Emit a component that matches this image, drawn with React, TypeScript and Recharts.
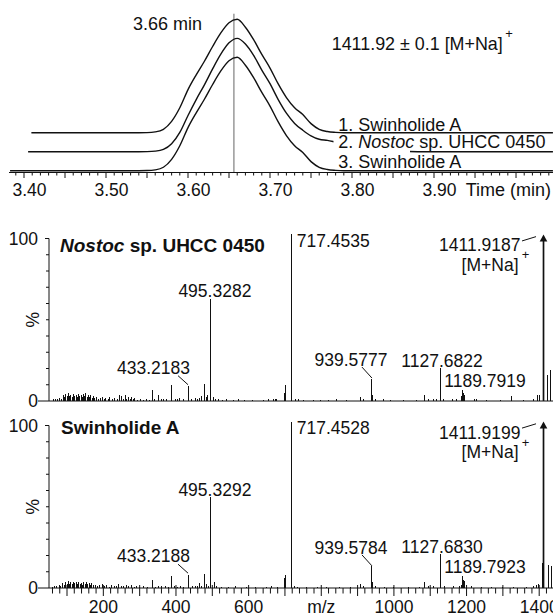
import { LineChart, Line, XAxis, YAxis, ReferenceLine, BarChart, Bar, ReferenceDot } from 'recharts';

const FONT = '"Liberation Sans", Arial, Helvetica, sans-serif';
const INK = '#111';

// ---- extracted ion chromatograms, m/z 1411.92 ± 0.1 ----
const RT_MIN = [
  3.383, 3.405, 3.409, 3.5, 3.54, 3.55, 3.56, 3.57, 3.58, 3.59, 3.6, 3.61, 3.62, 3.63, 3.64, 3.65, 3.66, 3.67,
  3.68, 3.69, 3.7, 3.71, 3.72, 3.73, 3.74, 3.75, 3.76, 3.77, 3.78, 3.79, 3.8, 3.83, 3.86, 3.9, 4.045,
];
const EIC_SWINHOLIDE_1 = [
  null, null, 0, 0, 0, 0.1, 0.7, 3, 10, 22, 38, 51, 63, 76, 88, 97, 100, 93,
  82, 69, 57, 43, 31, 22, 16, 8, 3, 1, 0.3, 0, 0, 0, 0, 0, 0,
];
const EIC_NOSTOC = [
  null, 0, 0, 0, 0, 0.1, 0.5, 2, 7, 17, 32, 46, 59, 73, 86, 96, 100, 95,
  85, 72, 60, 46, 34, 25, 19, 14, 11, 10, 8.5, 7, 6, 2.5, 0.5, 0, 0,
];
const EIC_SWINHOLIDE_3 = [
  0, 0, 0, 0, 0, 0.1, 0.7, 3, 10, 22, 38, 51, 63, 76, 88, 97, 100, 93,
  82, 69, 57, 43, 31, 22, 16, 8, 3, 1, 0.3, 0, 0, 0, 0, 0, 0,
];
const RT_APEX = 3.656;
const RT_DOMAIN = [3.3817, 4.0451];
const RT_TICKS = Array.from({ length: 66 }, (_, i) => Math.round(339 + i) / 100);
// stacking of the three traces (chart units, peak = 100)
const TRACE_OFFSET = { s1: 35.1, s2: 18.3, s3: 1.6 };
const EIC_DOMAIN = [0, 152.1];

// ---- mass spectra: [m/z, relative intensity %] ----
const NOSTOC_PEAKS: [number, number][] = [
  [62, 1.0], [67, 1.5], [73, 1.2], [79, 2.0], [84, 1.4], [90, 3.5], [94, 2.2], [97, 4.5], [101, 2.8], [104, 5.0],
  [107, 3.0], [110, 4.0], [114, 2.6], [117, 4.5], [121, 3.2], [125, 4.0], [128, 2.5], [131, 4.5], [135, 3.0],
  [139, 3.5], [142, 2.4], [145, 4.2], [149, 3.0], [152, 4.7], [156, 2.6], [159, 3.5], [162, 2.2], [165, 4.0],
  [169, 2.0], [172, 3.0], [177, 1.6], [182, 2.5], [186, 1.4], [191, 2.0], [198, 2.7], [203, 1.2], [207, 2.0],
  [213, 1.0], [218, 2.5], [225, 1.2], [232, 2.0], [238, 1.0], [244, 4.0], [251, 3.0], [256, 1.5], [260, 3.5],
  [265, 1.2], [269, 2.7], [274, 1.0], [278, 2.2], [283, 1.0], [287, 1.8], [294, 0.8], [301, 1.2], [310, 0.8],
  [320, 1.3], [328, 0.8], [336, 6.6], [342, 1.0], [353, 4.0], [359, 1.2], [365, 1.5], [375, 1.2], [388.4, 9.7],
  [397.5, 1.5], [405, 1.0], [411, 1.8], [422, 1.0], [433.2183, 9.1], [434.2, 2.0], [443.5, 1.5], [452.6, 2.0],
  [458, 1.0], [463.6, 2.0], [471, 3.0], [477.4, 10.4], [485, 2.5], [488, 3.5], [495.3282, 62.8], [496.33, 17],
  [503, 2.5], [510, 1.0], [517, 1.0], [528, 0.8], [540, 1.0], [558, 0.8], [572, 1.2], [590, 0.8], [610, 0.8],
  [641, 0.8], [654.5, 1.0], [668, 1.0], [673, 1.0], [677.7, 1.0], [697.7, 5.0], [700.5, 9.7], [717.4535, 102.5],
  [718.46, 42], [719.46, 8], [728, 1.5], [737, 1.0], [751, 0.8], [778.5, 0.8], [797, 0.8], [820, 0.8], [843, 1.0],
  [870.5, 0.8], [907, 2.5], [916, 1.5], [939.5777, 13.8], [940.58, 4], [948.5, 1.2], [971, 1.0], [990, 0.8],
  [1026, 0.8], [1063, 0.8], [1084, 4.0], [1095, 1.5], [1109, 1.0], [1118, 1.5], [1127.6822, 20.4], [1128.69, 6],
  [1137, 1.5], [1160, 1.2], [1173.5, 1.5], [1185.4, 3.0], [1189.7919, 6.6], [1191.5, 5.0], [1193.5, 4.0],
  [1221, 1.5], [1228.6, 1.0], [1256, 0.8], [1293, 0.8], [1323, 3.0], [1357, 0.8], [1384.6, 1.2], [1394, 3.5],
  [1401, 4.0], [1411.9187, 102.5], [1412.92, 19], [1422, 16], [1431, 19],
];
const NOSTOC_LABELLED = [433.2183, 495.3282, 717.4535, 939.5777, 1127.6822, 1189.7919, 1411.9187];

const SWINHOLIDE_PEAKS: [number, number][] = [
  [60, 0.8], [66, 1.4], [72, 1.0], [78, 1.8], [83, 1.2], [88, 2.8], [93, 2.0], [97, 3.8], [101, 2.4], [104, 4.2],
  [108, 2.6], [111, 3.7], [115, 2.2], [118, 3.6], [122, 2.8], [126, 3.4], [130, 2.2], [132, 3.5], [136, 2.6],
  [140, 3.0], [144, 2.0], [146, 3.7], [150, 2.5], [153, 3.8], [157, 2.2], [161, 3.0], [165, 1.8], [168, 2.8],
  [173, 1.6], [178, 2.0], [184, 1.2], [190, 1.8], [197, 2.2], [204, 1.0], [210, 1.6], [217, 0.8], [222, 2.0],
  [230, 1.0], [236, 1.4], [243, 2.5], [249, 1.2], [256, 1.0], [264, 2.0], [270, 1.0], [278, 1.6], [285, 0.8],
  [292, 1.0], [300, 0.8], [312, 1.0], [322, 0.8], [336, 5.1], [344, 0.8], [352, 1.5], [360, 1.0], [370, 1.2],
  [379, 0.8], [388.4, 7.6], [396, 1.2], [404, 0.8], [412, 1.4], [420, 0.8], [433.2188, 8.2], [434.2, 1.8],
  [445, 1.2], [453, 1.4], [460, 1.0], [466, 3.0], [471, 1.5], [477.4, 8.8], [485, 2.5], [490, 1.2],
  [495.3292, 55.7], [496.33, 14.8], [505, 3.7], [512, 1.0], [525, 0.8], [545, 0.8], [565, 1.0], [595, 0.8],
  [620, 0.8], [648, 0.8], [662, 1.0], [680, 0.8], [697.7, 6.1], [700.5, 8.2], [717.4528, 102.4], [718.46, 35.9],
  [719.46, 7], [726, 1.2], [735, 0.8], [760, 0.8], [790, 0.8], [815, 0.8], [850, 0.8], [880, 0.8], [907, 2.2],
  [915, 1.0], [939.5784, 13.3], [940.58, 3.5], [950, 1.0], [975, 0.8], [1000, 0.8], [1040, 0.8], [1070, 0.8],
  [1083, 3.5], [1095, 1.0], [1110, 1.0], [1127.683, 20.9], [1128.69, 5.5], [1140, 1.0], [1165, 1.0], [1180, 1.2],
  [1185, 2.0], [1189.7923, 7.2], [1191.5, 5.1], [1193.5, 4.1], [1215, 1.0], [1240, 0.8], [1270, 0.8], [1300, 0.8],
  [1330, 0.8], [1365, 0.8], [1385, 1.2], [1393, 2.0], [1398, 2.7], [1408, 15.4], [1411.9199, 102.4],
  [1412.92, 18], [1426, 14.3], [1433, 13.3],
];
const SWINHOLIDE_LABELLED = [433.2188, 495.3292, 717.4528, 939.5784, 1127.683, 1189.7923, 1411.9199];

const MZ_DOMAIN = [50.4, 1438];
const MZ_TICKS = Array.from({ length: 69 }, (_, i) => 60 + i * 20);
const PCT_DOMAIN = [0, 104];
const PCT_TICKS = [0, 10, 20, 30, 40, 50, 60, 70, 80, 90, 100];

// where each peak label sits relative to the top of its peak
type LabelLayout = { anchor: 'start' | 'middle' | 'end'; dx: number; dy: number; leader?: number[]; ion?: boolean };
const LABEL_LAYOUT: LabelLayout[] = [
  { anchor: 'end', dx: 2, dy: -12.7, leader: [-10, -10.5, 0, -1.5] },
  { anchor: 'middle', dx: 4.3, dy: -1.5 },
  { anchor: 'start', dx: 5.5, dy: 12.5 },
  { anchor: 'middle', dx: -21, dy: -12.5, leader: [-10, -11.5, 0, -0.5] },
  { anchor: 'middle', dx: 1.7, dy: -1.2 },
  { anchor: 'start', dx: -18.6, dy: -3.3 },
  { anchor: 'end', dx: -23, dy: 17, leader: [-21.5, 6.5, -7.5, 2.2], ion: true },
];

// room kept around each spectrum's plot so axis labels are not clipped
const PAD = 10;

function TimeTick(props: any) {
  const { x, y, payload } = props;
  const h = Math.round(payload.value * 100);
  const major = h % 5 === 0;
  const labelled = h % 10 === 0 && h <= 390;
  return (
    <g>
      <line x1={x} x2={x} y1={y} y2={y + (major ? 5.5 : 3)} stroke={INK} />
      {labelled && (
        <text x={x + 5.5} y={y + 23.5} textAnchor="middle" fontSize={17.5} fill={INK}>
          {payload.value.toFixed(2)}
        </text>
      )}
    </g>
  );
}

function MzTick(props: any) {
  const { x, y, payload } = props;
  const v = payload.value;
  const major = v % 100 === 0;
  const label = v % 200 === 0 ? (v === 800 ? 'm/z' : String(v)) : null;
  return (
    <g>
      <line x1={x} x2={x} y1={y - (major ? 3 : 0)} y2={y + (major ? 8 : 5.5)} stroke={INK} />
      {label && (
        <text x={x} y={y + 24.6} textAnchor="middle" fontSize={17.5} fill={INK}>
          {label}
        </text>
      )}
    </g>
  );
}

function PercentTick(props: any) {
  const { x, y, payload } = props;
  const v = payload.value;
  const len = v === 0 ? 11 : v === 100 ? 4 : 3;
  return (
    <g>
      <line x1={x - len} x2={x} y1={y} y2={y} stroke={INK} />
      {(v === 0 || v === 100) && (
        <text x={x - 11} y={y} dy="0.36em" textAnchor="end" fontSize={17.5} fill={INK}>
          {v}
        </text>
      )}
      {v === 50 && (
        <text transform={`translate(${x - 16},${y}) rotate(-90)`} dy="0.36em" textAnchor="middle" fontSize={17.5} fill={INK}>
          %
        </text>
      )}
    </g>
  );
}

const stickShape = (baseMz: number) => (p: any) => {
  const { x, y, width, height, payload } = p;
  const cx = x + width / 2;
  if (payload.mz === baseMz) {
    return (
      <g>
        <line x1={cx} x2={cx} y1={y + 5} y2={y + height} stroke={INK} strokeWidth={1.7} />
        <polygon points={`${cx},${y} ${cx - 3.8},${y + 7} ${cx + 3.8},${y + 7}`} fill={INK} />
      </g>
    );
  }
  return <line x1={cx} x2={cx} y1={y} y2={y + height} stroke={INK} strokeWidth={1} shapeRendering="crispEdges" />;
};

const peakLabel = (text: string, l: LabelLayout) => (p: any) => {
  const { cx, cy } = p;
  return (
    <g>
      {l.leader && (
        <line x1={cx + l.leader[0]} y1={cy + l.leader[1]} x2={cx + l.leader[2]} y2={cy + l.leader[3]} stroke={INK} />
      )}
      <text x={cx + l.dx} y={cy + l.dy} textAnchor={l.anchor} fontSize={17.5} fill={INK}>
        {text}
      </text>
      {l.ion && (
        <>
          <text x={cx - 25} y={cy + 36.5} textAnchor="end" fontSize={17.5} fill={INK}>
            [M+Na]
          </text>
          <text x={cx - 18} y={cy + 25} textAnchor="middle" fontSize={13} fill={INK}>
            +
          </text>
        </>
      )}
    </g>
  );
};

function Spectrum({ peaks, labelled, plotTop, showMzAxis }: any) {
  const rows = peaks
    .map(([mz, intensity]: [number, number]) => ({ mz, intensity }))
    .sort((a: any, b: any) => a.mz - b.mz);
  const base = labelled[labelled.length - 1];
  const axisHeight = showMzAxis ? 28.5 : 1;
  const bottom = showMzAxis ? 0 : PAD;
  const height = PAD + 169 + axisHeight + bottom;
  return (
    <div style={{ position: 'absolute', left: 0, top: plotTop - PAD, width: 553, height }}>
      <BarChart width={553} height={height} data={rows} margin={{ top: PAD, right: 0, bottom, left: 0 }}>
        <XAxis
          type="number"
          dataKey="mz"
          domain={MZ_DOMAIN}
          ticks={showMzAxis ? MZ_TICKS : []}
          interval={0}
          tick={showMzAxis ? MzTick : false}
          tickLine={false}
          tickSize={0}
          tickMargin={0}
          axisLine={{ stroke: INK }}
          height={axisHeight}
        />
        <YAxis
          type="number"
          domain={PCT_DOMAIN}
          ticks={PCT_TICKS}
          interval={0}
          tick={PercentTick}
          width={49}
          axisLine={false}
          tickLine={false}
          tickSize={0}
          tickMargin={0}
        />
        <ReferenceLine
          segment={[
            { x: MZ_DOMAIN[0], y: 0 },
            { x: MZ_DOMAIN[0], y: 100 },
          ]}
          stroke={INK}
        />
        <Bar dataKey="intensity" barSize={1} isAnimationActive={false} shape={stickShape(base)} />
        {labelled.map((mz: number, i: number) => {
          const peak = rows.find((r: any) => r.mz === mz);
          return (
            <ReferenceDot key={mz} x={mz} y={peak.intensity} r={0} shape={peakLabel(mz.toFixed(4), LABEL_LAYOUT[i])} />
          );
        })}
      </BarChart>
    </div>
  );
}

export default function App() {
  const eicRows = RT_MIN.map((t, i) => ({
    t,
    s1: EIC_SWINHOLIDE_1[i] == null ? null : (EIC_SWINHOLIDE_1[i] as number) + TRACE_OFFSET.s1,
    s2: EIC_NOSTOC[i] == null ? null : (EIC_NOSTOC[i] as number) + TRACE_OFFSET.s2,
    s3: EIC_SWINHOLIDE_3[i] + TRACE_OFFSET.s3,
  }));

  return (
    <div style={{ position: 'absolute', left: 0, top: 0, width: 553, height: 616, background: '#fff', fontFamily: FONT }}>
      <div style={{ position: 'absolute', left: 0, top: 0, width: 553, height: 200 }}>
        <LineChart width={553} height={200} data={eicRows} margin={{ top: 0, right: 0, bottom: 0, left: 9 }}>
          <XAxis
            type="number"
            dataKey="t"
            domain={RT_DOMAIN}
            ticks={RT_TICKS}
            interval={0}
            tick={TimeTick}
            tickLine={false}
            tickSize={0}
            tickMargin={0}
            axisLine={{ stroke: INK }}
            height={27.5}
          />
          <YAxis hide type="number" domain={EIC_DOMAIN} />
          <ReferenceLine
            segment={[
              { x: RT_APEX, y: 0 },
              { x: RT_APEX, y: 140 },
            ]}
            stroke="#666"
          />
          <Line dataKey="s1" type="monotone" stroke={INK} strokeWidth={1.4} dot={false} isAnimationActive={false} />
          <Line dataKey="s2" type="monotone" stroke={INK} strokeWidth={1.4} dot={false} isAnimationActive={false} />
          <Line dataKey="s3" type="monotone" stroke={INK} strokeWidth={1.4} dot={false} isAnimationActive={false} />
        </LineChart>
      </div>

      <Spectrum peaks={NOSTOC_PEAKS} labelled={NOSTOC_LABELLED} plotTop={231.7} showMzAxis={false} />
      <Spectrum peaks={SWINHOLIDE_PEAKS} labelled={SWINHOLIDE_LABELLED} plotTop={418.5} showMzAxis />

      <svg width={553} height={616} style={{ position: 'absolute', left: 0, top: 0, pointerEvents: 'none' }}>
        <g fill={INK}>
          <text x={133} y={30} fontSize={18}>3.66 min</text>
          <text x={331.7} y={50} fontSize={17.9}>
            1411.92 ± 0.1 [M+Na]
            <tspan dx={2.5} dy={-12} fontSize={13} fill={INK}>+</tspan>
          </text>
          <rect x={333.5} y={134.5} width={76.5} height={19} fill="#fff" />
          <text x={338.3} y={131} fontSize={18}>1. Swinholide A</text>
          <text x={338.3} y={148} fontSize={18}>
            2. <tspan fontStyle="italic">Nostoc</tspan> sp. UHCC 0450
          </text>
          <text x={338.3} y={168.3} fontSize={18}>3. Swinholide A</text>
          <text x={551} y={196} textAnchor="end" fontSize={18}>Time (min)</text>
          <text x={60} y={252.3} fontSize={19} fontWeight="bold">
            <tspan fontStyle="italic">Nostoc</tspan> sp. UHCC 0450
          </text>
          <text x={61} y={434} fontSize={19} fontWeight="bold">Swinholide A</text>
        </g>
      </svg>
    </div>
  );
}
